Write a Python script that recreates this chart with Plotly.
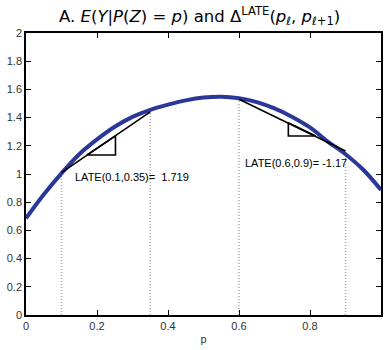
import plotly.graph_objects as go

# Curve E(Y|P(Z)=p)
p_grid = [0.0, 0.05, 0.10, 0.15, 0.20, 0.25, 0.30, 0.35, 0.40, 0.45, 0.50,
          0.55, 0.60, 0.65, 0.70, 0.75, 0.80, 0.85, 0.90, 0.95, 1.0]
ey_vals = [0.686, 0.855, 1.005, 1.14, 1.245, 1.335, 1.405, 1.455, 1.492, 1.522, 1.542,
           1.548, 1.537, 1.51, 1.465, 1.405, 1.33, 1.23, 1.14, 1.03, 0.887]

# Secant endpoints (p_l, p_l+1) and values
sec1_p = [0.1, 0.35]
sec1_y = [1.01, 1.44]
sec2_p = [0.6, 0.9]
sec2_y = [1.53, 1.163]

# Slope triangles
tri1_p = [0.172, 0.252, 0.252, 0.172]
tri1_y = [1.135, 1.135, 1.27, 1.135]
tri2_p = [0.739, 0.739, 0.816, 0.739]
tri2_y = [1.364, 1.27, 1.27, 1.364]

# Labels
label_texts = ["LATE(0.1,0.35)=\u00a0\u00a01.719", "LATE(0.6,0.9)= -1.17"]
label_p = [0.132, 0.61]
label_y = [0.98, 1.078]

x_ticks = [0, 0.2, 0.4, 0.6, 0.8, 1]
x_ticklabels = ["0", "0.2", "0.4", "0.6", "0.8", "1"]
y_ticks = [0, 0.2, 0.4, 0.6, 0.8, 1, 1.2, 1.4, 1.6, 1.8, 2]
y_ticklabels = ["0", "0.2", "0.4", "0.6", "0.8", "1", "1.2", "1.4", "1.6", "1.8", "2"]

fig = go.Figure()

# dotted verticals
for px_, py_ in zip(sec1_p + sec2_p, sec1_y + sec2_y):
    fig.add_trace(go.Scatter(x=[px_, px_], y=[0, py_], mode="lines",
                             line=dict(color="#a8a8a8", width=1.5, dash="1px,2px"),
                             hoverinfo="skip", showlegend=False))

fig.add_trace(go.Scatter(x=p_grid, y=ey_vals, mode="lines",
                         line=dict(color="#2b3898", width=4, shape="spline"),
                         showlegend=False))

for xs, ys in [(sec1_p, sec1_y), (sec2_p, sec2_y), (tri1_p, tri1_y), (tri2_p, tri2_y)]:
    fig.add_trace(go.Scatter(x=xs, y=ys, mode="lines",
                             line=dict(color="black", width=1.6),
                             showlegend=False))

for t, xp, yp in zip(label_texts, label_p, label_y):
    fig.add_annotation(x=xp, y=yp, text=t, showarrow=False, xanchor="left",
                       yanchor="middle", font=dict(size=11, color="black",
                                                   family="Liberation Sans, Arial"))

fig.update_layout(
    width=384, height=350,
    margin=dict(l=26, r=1, t=33, b=35),
    plot_bgcolor="white", paper_bgcolor="white",
    font=dict(family="Liberation Sans, Arial", size=11, color="#333333"),
    title=dict(text="A. <i>E</i>(<i>Y</i>|<i>P</i>(<i>Z</i>) = <i>p</i>) and Δ<sup>LATE</sup>(<i>p</i><sub>ℓ</sub>, <i>p</i><sub>ℓ+1</sub>)",
               x=0.52, xanchor="center", y=0.955, yanchor="middle",
               font=dict(size=16.5, color="black", family="DejaVu Sans, Liberation Sans")),
    showlegend=False,
)
fig.update_xaxes(range=[0, 1], tickvals=x_ticks, ticktext=x_ticklabels,
                 ticks="inside", ticklen=5, tickcolor="black", showline=True,
                 linecolor="black", linewidth=1.5, mirror="ticks", showgrid=False,
                 zeroline=False, title=dict(text="p", standoff=4, font=dict(size=11)))
fig.update_yaxes(range=[0, 2], tickvals=y_ticks, ticktext=y_ticklabels,
                 ticks="inside", ticklen=5, tickcolor="black", showline=True,
                 linecolor="black", linewidth=1.5, mirror="ticks", showgrid=False,
                 zeroline=False)

fig.write_html("out.html")
